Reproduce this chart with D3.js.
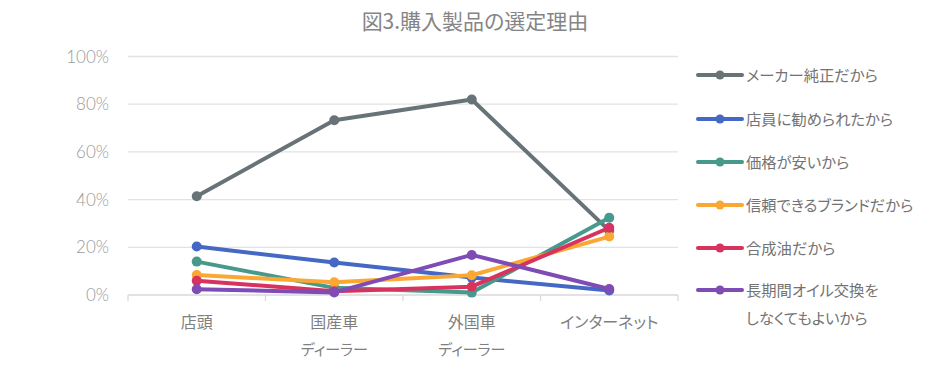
<!DOCTYPE html>
<html lang="ja">
<head>
<meta charset="UTF-8">
<title>図3.購入製品の選定理由</title>
<style>
  body { margin: 0; background: #fff; }
  text { font-family: "Noto Sans CJK JP", sans-serif; font-feature-settings: "palt" 1; }
</style>
</head>
<body>
<script src="https://d3js.org/d3.v7.min.js"></script>
<script>
// データ
var categories = [["店頭"], ["国産車", "ディーラー"], ["外国車", "ディーラー"], ["インターネット"]];
var seriesNames = [["メーカー純正だから"], ["店員に勧められたから"], ["価格が安いから"], ["信頼できるブランドだから"], ["合成油だから"], ["長期間オイル交換を", "しなくてもよいから"]];
var seriesColors = ["#687378", "#4468c4", "#46998b", "#fba733", "#d8335f", "#7f4bb4"];
var values = [
  [41.4, 73.3, 82.0, 27.0],
  [20.3, 13.6, 7.3, 1.9],
  [14.0, 3.0, 1.0, 32.4],
  [8.4, 5.3, 8.3, 24.5],
  [6.0, 1.6, 3.5, 28.2],
  [2.4, 1.1, 16.8, 2.5]
];
var yTicks = [0, 20, 40, 60, 80, 100];

var W = 940, H = 369;
var svg = d3.select("body").append("svg").attr("width", W).attr("height", H);

// タイトル
svg.append("text").attr("x", 475).attr("y", 29).attr("text-anchor", "middle")
  .attr("font-size", 21).attr("fill", "#858585").text("図3.購入製品の選定理由");

var x = d3.scaleBand().domain(d3.range(categories.length)).range([128, 678]);
var y = d3.scaleLinear().domain([0, 100]).range([295, 56.5]);

// グリッド線
svg.append("g").selectAll("line").data(yTicks.slice(1)).enter().append("line")
  .attr("x1", 128).attr("x2", 678)
  .attr("y1", function(d){ return y(d); }).attr("y2", function(d){ return y(d); })
  .attr("stroke", "#e2e2e2").attr("stroke-width", 1.3);

// y軸ラベル
svg.append("g").selectAll("text").data(yTicks).enter().append("text")
  .attr("x", 109).attr("y", function(d){ return y(d) + 6; })
  .attr("text-anchor", "end").attr("font-size", 17)
  .style("font-family", "Lato, sans-serif").style("font-weight", 300)
  .attr("fill", "#9a9a9a").text(function(d){ return d + "%"; });

// x軸
var xAxis = svg.append("g");
xAxis.append("line").attr("x1", 128).attr("x2", 678).attr("y1", 295).attr("y2", 295)
  .attr("stroke", "#d9d9d9").attr("stroke-width", 1.3);
xAxis.selectAll(".tick").data(d3.range(categories.length + 1)).enter().append("line")
  .attr("x1", function(i){ return 128 + i * x.bandwidth(); })
  .attr("x2", function(i){ return 128 + i * x.bandwidth(); })
  .attr("y1", 295).attr("y2", 301).attr("stroke", "#d9d9d9").attr("stroke-width", 1.3);
categories.forEach(function(lines, i){
  lines.forEach(function(t, k){
    xAxis.append("text").attr("x", x(i) + x.bandwidth() / 2).attr("y", 328 + k * 27)
      .attr("text-anchor", "middle").attr("font-size", k === 0 ? 16 : 15)
      .attr("fill", "#7f7f7f").text(t);
  });
});

// 折れ線
var line = d3.line()
  .x(function(d, i){ return x(i) + x.bandwidth() / 2; })
  .y(function(d){ return y(d); });

values.forEach(function(vals, s){
  var g = svg.append("g");
  g.append("path").datum(vals).attr("d", line).attr("fill", "none")
    .attr("stroke", seriesColors[s]).attr("stroke-width", 4).attr("stroke-linejoin", "round");
  g.selectAll("circle").data(vals).enter().append("circle")
    .attr("cx", function(d, i){ return x(i) + x.bandwidth() / 2; })
    .attr("cy", function(d){ return y(d); })
    .attr("r", 5).attr("fill", seriesColors[s]);
});

// 凡例
var legendY = [75, 119, 162, 205, 248, 290];
seriesNames.forEach(function(lines, s){
  var g = svg.append("g").attr("transform", "translate(0," + legendY[s] + ")");
  g.append("line").attr("x1", 698).attr("x2", 742).attr("y1", 0).attr("y2", 0)
    .attr("stroke", seriesColors[s]).attr("stroke-width", 4).attr("stroke-linecap", "round");
  g.append("circle").attr("cx", 720).attr("cy", 0).attr("r", 4.5).attr("fill", seriesColors[s]);
  lines.forEach(function(t, k){
    g.append("text").attr("x", 746).attr("y", 6 + k * 28).attr("font-size", 15.3)
      .attr("fill", "#737373").text(t);
  });
});
</script>
</body>
</html>
